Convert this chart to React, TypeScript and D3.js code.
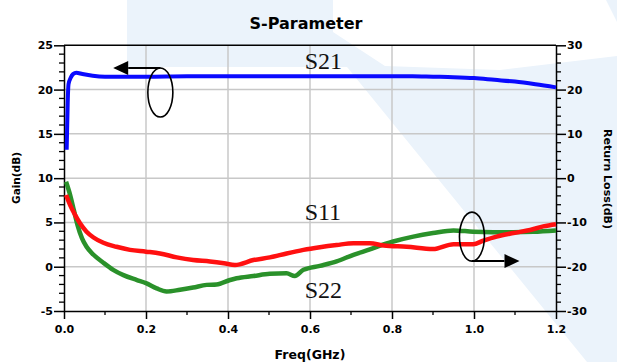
import React, { useEffect, useRef } from "react";
import * as d3 from "d3";

// axis ticks
const freqTicks = [0, 0.2, 0.4, 0.6, 0.8, 1.0, 1.2];
const gainTicks = [-5, 0, 5, 10, 15, 20, 25];
const lossTicks = [-30, -20, -10, 0, 10, 20, 30];

// S21 gain (dB), left axis  [GHz, dB]
const s21: [number, number][] = [
  [0.0065, 13.2], [0.009, 18.5], [0.011, 20.6], [0.016, 21.3], [0.022, 21.75],
  [0.03, 21.9], [0.045, 21.75], [0.07, 21.55], [0.1, 21.45], [0.15, 21.45],
  [0.2, 21.45], [0.3, 21.5], [0.4, 21.5], [0.5, 21.5], [0.6, 21.5], [0.7, 21.5],
  [0.8, 21.5], [0.85, 21.5], [0.9, 21.45], [0.95, 21.4], [1.0, 21.3],
  [1.05, 21.1], [1.1, 20.9], [1.15, 20.6], [1.2, 20.25],
];

// S11 return loss (dB), right axis
const s11: [number, number][] = [
  [0.005, -3.8], [0.015, -6.1], [0.027, -8.3], [0.039, -10.2], [0.055, -12.1],
  [0.072, -13.4], [0.096, -14.6], [0.128, -15.5], [0.161, -16.2], [0.2, -16.6],
  [0.234, -17.0], [0.275, -17.9], [0.315, -18.5], [0.356, -18.8], [0.39, -19.2],
  [0.417, -19.6], [0.462, -18.5], [0.502, -17.9], [0.543, -17.0], [0.584, -16.2],
  [0.624, -15.6], [0.665, -15.1], [0.706, -14.7], [0.746, -14.7], [0.78, -15.2],
  [0.836, -15.5], [0.9, -16.0], [0.95, -14.9], [0.998, -14.9], [1.023, -14.1],
  [1.055, -13.2], [1.096, -12.4], [1.137, -11.7], [1.169, -10.9], [1.2, -10.4],
];

// S22 return loss (dB), right axis
const s22: [number, number][] = [
  [0.005, -0.8], [0.015, -3.8], [0.024, -7.2], [0.033, -10.6], [0.044, -13.6],
  [0.055, -15.5], [0.072, -17.3], [0.096, -19.1], [0.12, -20.7], [0.145, -21.9],
  [0.178, -23.0], [0.2, -23.7], [0.226, -24.9], [0.25, -25.6], [0.283, -25.2],
  [0.315, -24.7], [0.348, -24.1], [0.372, -24.0], [0.405, -23.0], [0.421, -22.6],
  [0.462, -22.1], [0.502, -21.6], [0.543, -21.5], [0.563, -22.1], [0.584, -20.7],
  [0.624, -19.8], [0.665, -18.8], [0.706, -17.3], [0.746, -16.1], [0.785, -14.8],
  [0.803, -14.3], [0.852, -13.2], [0.9, -12.4], [0.95, -11.8], [0.998, -12.1],
  [1.047, -12.2], [1.096, -12.2], [1.145, -12.1], [1.2, -11.8],
];

const W = 617;
const H = 362;
const font = "'DejaVu Sans', sans-serif";

const App = () => {
  const svgRef = useRef<SVGSVGElement>(null);

  useEffect(() => {
    const svg = d3.select(svgRef.current);
    svg.selectAll("*").remove();

    const x = d3.scaleLinear().domain([0, 1.2]).range([64, 556]);
    const yL = d3.scaleLinear().domain([-5, 25]).range([311, 45.3]);
    const yR = d3.scaleLinear().domain([-30, 30]).range([311, 45.3]);

    // faint watermark in the background
    const wm = "#ebf3fb";
    const shapes = [
      [[127, 0], [333, 0], [333, 67], [127, 67]],
      [[333, 32], [385, 66], [500, 70], [617, 56], [617, 362], [587, 362], [347, 67], [333, 67]],
      [[606, 0], [617, 0], [617, 22]],
    ];
    shapes.forEach((p) => {
      svg.append("polygon")
        .attr("points", p.map((d) => d.join(",")).join(" "))
        .attr("fill", wm);
    });

    // grid
    const grid = svg.append("g").attr("stroke", "#c8c8c8").attr("stroke-width", 1.5);
    freqTicks.slice(1, -1).forEach((f) => {
      grid.append("line").attr("x1", x(f)).attr("x2", x(f)).attr("y1", yL(25)).attr("y2", yL(-5));
    });
    gainTicks.slice(1, -1).forEach((g) => {
      grid.append("line").attr("x1", x(0)).attr("x2", x(1.2)).attr("y1", yL(g)).attr("y2", yL(g));
    });

    // top border
    svg.append("line")
      .attr("x1", x(0)).attr("x2", x(1.2)).attr("y1", yL(25)).attr("y2", yL(25))
      .attr("stroke", "#000").attr("stroke-width", 1.5);

    const styleAxis = (g: any) => {
      g.select(".domain").attr("stroke", "#000").attr("stroke-width", 1.5);
      g.selectAll(".tick line").attr("stroke", "#000").attr("stroke-width", 1.5);
      g.selectAll("text")
        .attr("fill", "#000")
        .style("font-family", font)
        .style("font-weight", "bold")
        .style("font-size", "11px");
    };

    const minor = (vals: number[], fn: (v: number) => any) => {
      vals.forEach(fn);
    };

    // left axis
    const gl = svg.append("g").attr("transform", `translate(${x(0)},0)`)
      .call(d3.axisLeft(yL).tickValues(gainTicks).tickSize(10).tickSizeOuter(0).tickPadding(1)
        .tickFormat((d: any) => String(d)));
    styleAxis(gl);
    minor(d3.range(-5, 26).filter((v) => !gainTicks.includes(v)), (v) => {
      svg.append("line").attr("x1", x(0) - 5).attr("x2", x(0)).attr("y1", yL(v)).attr("y2", yL(v))
        .attr("stroke", "#000").attr("stroke-width", 1.3);
    });

    // right axis
    const gr = svg.append("g").attr("transform", `translate(${x(1.2)},0)`)
      .call(d3.axisRight(yR).tickValues(lossTicks).tickSize(10).tickSizeOuter(0).tickPadding(1)
        .tickFormat((d: any) => String(d)));
    styleAxis(gr);
    minor(d3.range(-30, 31, 2).filter((v) => !lossTicks.includes(v)), (v) => {
      svg.append("line").attr("x1", x(1.2)).attr("x2", x(1.2) + 5).attr("y1", yR(v)).attr("y2", yR(v))
        .attr("stroke", "#000").attr("stroke-width", 1.3);
    });

    // bottom axis
    const gb = svg.append("g").attr("transform", `translate(0,${yL(-5)})`)
      .call(d3.axisBottom(x).tickValues(freqTicks).tickSize(8).tickSizeOuter(0).tickPadding(6)
        .tickFormat(d3.format(".1f") as any));
    styleAxis(gb);
    minor([0.1, 0.3, 0.5, 0.7, 0.9, 1.1], (v) => {
      svg.append("line").attr("x1", x(v)).attr("x2", x(v)).attr("y1", yL(-5)).attr("y2", yL(-5) + 4)
        .attr("stroke", "#000").attr("stroke-width", 1.3);
    });

    // curves
    const lineL = d3.line<[number, number]>().x((d) => x(d[0])).y((d) => yL(d[1])).curve(d3.curveMonotoneX);
    const lineR = d3.line<[number, number]>().x((d) => x(d[0])).y((d) => yR(d[1])).curve(d3.curveMonotoneX);

    svg.append("path").datum(s22).attr("d", lineR).attr("fill", "none")
      .attr("stroke", "#2a912a").attr("stroke-width", 4.5);
    svg.append("path").datum(s11).attr("d", lineR).attr("fill", "none")
      .attr("stroke", "#ff1010").attr("stroke-width", 4.5);
    svg.append("path").datum(s21).attr("d", lineL).attr("fill", "none")
      .attr("stroke", "#0a0aff").attr("stroke-width", 4);

    // series labels
    const serif = "'Liberation Serif', 'Times New Roman', serif";
    [["S21", yL(21.5) - 7.5], ["S11", yR(-9.5)], ["S22", yR(-25.6) + 6]].forEach(([t, yy]) => {
      svg.append("text").attr("x", x(0.587)).attr("y", yy as number)
        .style("font-family", serif).style("font-size", "24px").attr("fill", "#111")
        .text(t as string);
    });

    // annotation: ellipse + arrow
    const annot = (cx: number, cy: number, tipX: number, up: boolean) => {
      const rx = 12.5, ry = 24.5;
      svg.append("ellipse").attr("cx", cx).attr("cy", cy).attr("rx", rx).attr("ry", ry)
        .attr("fill", "none").attr("stroke", "#000").attr("stroke-width", 1.6);
      const ay = up ? cy - ry : cy + ry;
      const dir = tipX < cx ? -1 : 1;
      const baseX = tipX - dir * 15;
      svg.append("line").attr("x1", cx).attr("x2", baseX).attr("y1", ay).attr("y2", ay)
        .attr("stroke", "#000").attr("stroke-width", 2);
      svg.append("polygon")
        .attr("points", `${tipX},${ay} ${baseX},${ay - 7} ${baseX},${ay + 7}`)
        .attr("fill", "#000");
    };
    annot(x(0.235), yL(19.67), x(0.12), true);
    annot(x(0.995), yR(-13.2), x(1.111), false);

    // titles
    svg.append("text").attr("x", 306).attr("y", 29).attr("text-anchor", "middle")
      .style("font-family", font).style("font-weight", "bold").style("font-size", "16px")
      .text("S-Parameter");
    svg.append("text").attr("x", 310).attr("y", 359).attr("text-anchor", "middle")
      .style("font-family", font).style("font-weight", "bold").style("font-size", "12.5px")
      .text("Freq(GHz)");
    svg.append("text").attr("transform", "translate(20,178) rotate(-90)").attr("text-anchor", "middle")
      .style("font-family", font).style("font-weight", "bold").style("font-size", "10.5px")
      .text("Gain(dB)");
    svg.append("text").attr("transform", "translate(604,179) rotate(90)").attr("text-anchor", "middle")
      .style("font-family", font).style("font-weight", "bold").style("font-size", "11px")
      .text("Return Loss(dB)");
  }, []);

  return (
    <svg ref={svgRef} width={W} height={H}
      style={{ position: "absolute", left: 0, top: 0, background: "#fff" }} />
  );
};

export default App;
